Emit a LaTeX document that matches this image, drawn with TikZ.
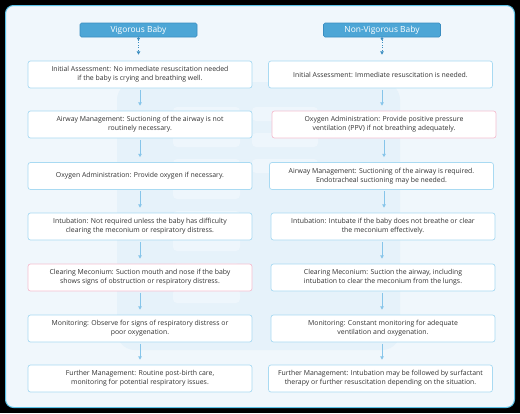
\documentclass[tikz,border=0pt]{standalone}
\usepackage{fontspec}
\setmainfont{Open Sans}
\usetikzlibrary{arrows.meta}
\definecolor{bgout}{HTML}{000000}
\definecolor{panel}{HTML}{F0F7FC}
\definecolor{panelborder}{HTML}{5CC3E8}
\definecolor{wm}{HTML}{E6F2FA}
\definecolor{wmlight}{HTML}{EEF6FC}
\definecolor{hdrfill}{HTML}{4DA6D6}
\definecolor{hdrborder}{HTML}{3A8DC0}
\definecolor{boxborder}{HTML}{A9DAF2}
\definecolor{pinkborder}{HTML}{F5BFD0}
\definecolor{arrowc}{HTML}{86C5EA}
\definecolor{txt}{HTML}{333333}
\tikzset{
  hdr/.style={draw=hdrborder, line width=0.6pt, fill=hdrfill, rounded corners=1.5pt, minimum width=117pt, minimum height=14pt, inner sep=0pt, text=white, font=\fontsize{8.4}{10}\selectfont},
  stepbox/.style={draw=boxborder, line width=0.7pt, fill=white, rounded corners=2.5pt, minimum width=224pt, minimum height=27pt, inner sep=0pt, align=center, text=txt, font=\fontsize{6.9}{8.9}\selectfont},
  pinkbox/.style={stepbox, draw=pinkborder},
  flow/.style={draw=arrowc, line width=0.7pt, -{Triangle[length=3.2pt,width=3.4pt]}, shorten <=1.5pt, shorten >=5pt},
  hflow/.style={draw=hdrborder, line width=0.6pt, dotted, {Circle[length=2.6pt]}-{Triangle[length=3.2pt,width=3.4pt]}, shorten >=6pt}
}
\begin{document}
\begin{tikzpicture}[x=1pt,y=-1pt]
\useasboundingbox (0,0) rectangle (520,413);
\fill[bgout] (0,0) rectangle (520,413);
\draw[panelborder, fill=panel, line width=1pt, rounded corners=8pt] (5.5,5.5) rectangle (514.5,407.5);
% watermark
\fill[wm, rounded corners=18pt] (117,82) rectangle (400,350);
\foreach \yy in {107,133,159,185,211,237,263,289,315}{
  \fill[wmlight, rounded corners=4pt] (173,\yy) rectangle (240,\yy+14);
}
\foreach \yy in {107,133,159}{
  \fill[wmlight, rounded corners=4pt] (252,\yy) rectangle (318,\yy+14);
}
% headers
\node[hdr] (h1) at (138.5,30) {Vigorous Baby};
\node[hdr] (h2) at (382,30) {Non-Vigorous Baby};
% left column
\node[stepbox] (l1) at (140,74.5) {Initial Assessment: No immediate resuscitation needed\\if the baby is crying and breathing well.};
\node[stepbox] (l2) at (140,124.5) {Airway Management: Suctioning of the airway is not\\routinely necessary.};
\node[stepbox] (l3) at (140,176) {Oxygen Administration: Provide oxygen if necessary.};
\node[stepbox] (l4) at (140,226.5) {Intubation: Not required unless the baby has difficulty\\clearing the meconium or respiratory distress.};
\node[pinkbox] (l5) at (140,277.5) {Clearing Meconium: Suction mouth and nose if the baby\\shows signs of obstruction or respiratory distress.};
\node[stepbox] (l6) at (140,328.5) {Monitoring: Observe for signs of respiratory distress or\\poor oxygenation.};
\node[stepbox] (l7) at (140,378.5) {Further Management: Routine post-birth care,\\monitoring for potential respiratory issues.};
% right column
\node[stepbox] (r1) at (380.5,74.5) {Initial Assessment: Immediate resuscitation is needed.};
\node[pinkbox] (r2) at (384,124.5) {Oxygen Administration: Provide positive pressure\\ventilation (PPV) if not breathing adequately.};
\node[stepbox] (r3) at (381.5,176) {Airway Management: Suctioning of the airway is required.\\Endotracheal suctioning may be needed.};
\node[stepbox] (r4) at (383,226.5) {Intubation: Intubate if the baby does not breathe or clear\\the meconium effectively.};
\node[stepbox] (r5) at (383,277.5) {Clearing Meconium: Suction the airway, including\\intubation to clear the meconium from the lungs.};
\node[stepbox] (r6) at (383,328.5) {Monitoring: Constant monitoring for adequate\\ventilation and oxygenation.};
\node[stepbox] (r7) at (380.5,378.5) {Further Management: Intubation may be followed by surfactant\\therapy or further resuscitation depending on the situation.};
% connectors
\draw[hflow] (h1.south) -- (h1.south |- l1.north);
\draw[hflow] (h2.south) -- (h2.south |- r1.north);
\draw[flow] (l1.south) -- (l2.north);
\draw[flow] (l2.south) -- (l3.north);
\draw[flow] (l3.south) -- (l4.north);
\draw[flow] (l4.south) -- (l5.north);
\draw[flow] (l5.south) -- (l6.north);
\draw[flow] (l6.south) -- (l7.north);
\draw[flow] (r1.south -| h2.south) -- (h2.south |- r2.north);
\draw[flow] ([xshift=2pt]r2.south -| h2.south) -- ([xshift=2pt]h2.south |- r3.north);
\draw[flow] ([xshift=1pt]r3.south -| r4.south) -- ([xshift=1pt]r4.north);
\draw[flow] ([xshift=-1pt]r4.south) -- ([xshift=-1pt]r5.north);
\draw[flow] ([xshift=-1pt]r5.south) -- ([xshift=-1pt]r6.north);
\draw[flow] ([xshift=-1pt]r6.south) -- ([xshift=-1pt]r6.south |- r7.north);
\end{tikzpicture}
\end{document}
